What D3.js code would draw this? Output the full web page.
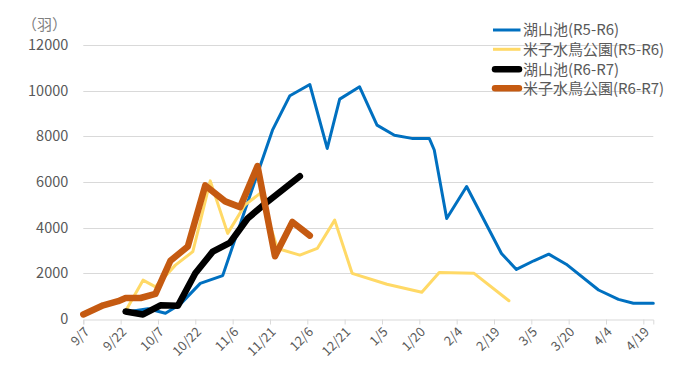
<!DOCTYPE html>
<html>
<head>
<meta charset="utf-8">
<script src="https://cdn.jsdelivr.net/npm/d3@7"></script>
<style>
  body { margin: 0; background: #fff; }
  .chart { width: 676px; height: 376px; }
  text { font-family: "Noto Sans CJK JP", "Noto Sans", sans-serif; }
</style>
</head>
<body>
<div class="chart"></div>
<script>
// 目盛り（15日おき）
const xTickLabels = ["9/7", "9/22", "10/7", "10/22", "11/6", "11/21", "12/6", "12/21",
  "1/5", "1/20", "2/4", "2/19", "3/5", "3/20", "4/4", "4/19"];
const yTickValues = [0, 2000, 4000, 6000, 8000, 10000, 12000];

// 湖山池(R5-R6)
const koyamaR5Dates = ["9/27", "10/3", "10/10", "10/16", "10/24", "11/2", "11/12", "11/22", "11/29",
  "12/7", "12/14", "12/19", "12/27", "1/3", "1/10", "1/17", "1/24", "1/26", "1/31", "2/8",
  "2/22", "2/28", "3/6", "3/12", "3/19", "4/1", "4/9", "4/15", "4/23"];
const koyamaR5Values = [350, 450, 250, 650, 1560, 1900, 5100, 8270, 9780,
  10270, 7470, 9630, 10170, 8490, 8050, 7910, 7910, 7400, 4400, 5800,
  2870, 2170, 2550, 2840, 2400, 1270, 860, 690, 690];

// 米子水鳥公園(R5-R6)
const yonagoR5Dates = ["9/24", "10/1", "10/6", "10/14", "10/21", "10/28", "11/4", "11/11", "11/17",
  "11/24", "12/3", "12/10", "12/17", "12/24", "1/7", "1/21", "1/28", "2/11", "2/25"];
const yonagoR5Values = [350, 1700, 1410, 2360, 2950, 6050, 3750, 5000, 5500,
  3090, 2800, 3090, 4330, 2000, 1520, 1170, 2040, 2000, 800];

// 湖山池(R6-R7)
const koyamaR6Dates = ["9/24", "10/1", "10/8", "10/15", "10/22", "10/29", "11/5", "11/12", "11/19",
  "11/26", "12/3"];
const koyamaR6Values = [330, 200, 600, 580, 2000, 2950, 3350, 4400, 5050, 5650, 6250];

// 米子水鳥公園(R6-R7)
const yonagoR6Dates = ["9/7", "9/15", "9/21", "9/24", "9/30", "10/6", "10/12", "10/19", "10/26",
  "11/3", "11/9", "11/16", "11/23", "11/30", "12/7"];
const yonagoR6Values = [200, 600, 780, 920, 920, 1100, 2550, 3180, 5850,
  5150, 4900, 6700, 2750, 4250, 3650];

const seriesNames = ["湖山池(R5-R6)", "米子水鳥公園(R5-R6)", "湖山池(R6-R7)", "米子水鳥公園(R6-R7)"];
const seriesColors = ["#0070C0", "#FFD966", "#000000", "#C55A11"];
const seriesWidths = [3, 3, 6.5, 6.5];

// "M/D" を日付に（7月以降は2023年、それ以前は2024年として同じ軸に載せる）
function parseMD(s) {
  const [m, d] = s.split("/").map(Number);
  return new Date(m >= 7 ? 2023 : 2024, m - 1, d);
}

const series = [
  { dates: koyamaR5Dates, values: koyamaR5Values },
  { dates: yonagoR5Dates, values: yonagoR5Values },
  { dates: koyamaR6Dates, values: koyamaR6Values },
  { dates: yonagoR6Dates, values: yonagoR6Values }
].map((s, i) => ({
  name: seriesNames[i],
  color: seriesColors[i],
  width: seriesWidths[i],
  points: s.dates.map((d, j) => ({ date: parseMD(d), value: s.values[j] }))
}));

const width = 676, height = 376;
const margin = { top: 45, right: 22.7, bottom: 57, left: 83.3 };

const svg = d3.select(".chart")
  .append("svg")
  .attr("width", width)
  .attr("height", height)
  .attr("viewBox", `0 0 ${width} ${height}`);

const x = d3.scaleTime()
  .domain([parseMD("9/7"), parseMD("4/23")])
  .range([margin.left, width - margin.right]);

const y = d3.scaleLinear()
  .domain([0, 12000])
  .range([height - margin.bottom, margin.top]);

// グリッド線
svg.append("g")
  .selectAll("line")
  .data(yTickValues.filter(v => v > 0))
  .join("line")
  .attr("x1", x.range()[0])
  .attr("x2", x.range()[1])
  .attr("y1", d => Math.round(y(d)) + 0.5)
  .attr("y2", d => Math.round(y(d)) + 0.5)
  .attr("stroke", "#D9D9D9")
  .attr("stroke-width", 1);

// y軸
const yAxis = svg.append("g")
  .attr("transform", `translate(${margin.left},0)`)
  .call(d3.axisLeft(y).tickValues(yTickValues).tickSize(0).tickPadding(15)
    .tickFormat(d3.format("d")));
yAxis.select(".domain").remove();
yAxis.selectAll("text")
  .style("font-size", "14.5px")
  .attr("fill", "#595959");

svg.append("text")
  .attr("x", 67)
  .attr("y", 30)
  .attr("text-anchor", "end")
  .style("font-size", "15px")
  .attr("fill", "#7F7F7F")
  .text("（羽）");

// x軸
const xAxis = svg.append("g")
  .attr("transform", `translate(0,${Math.round(y(0)) + 0.5})`)
  .call(d3.axisBottom(x)
    .tickValues(xTickLabels.map(parseMD))
    .tickSize(5)
    .tickFormat(d => `${d.getMonth() + 1}/${d.getDate()}`));
xAxis.select(".domain").attr("stroke", "#D9D9D9");
xAxis.selectAll(".tick line").attr("stroke", "#D9D9D9");
xAxis.selectAll(".tick text")
  .attr("fill", "#595959")
  .style("font-size", "13px")
  .attr("text-anchor", "end")
  .attr("transform", "translate(3,10) rotate(-45)")
  .attr("x", 0)
  .attr("y", 0)
  .attr("dy", "0.35em");

// 折れ線
const line = d3.line()
  .x(d => x(d.date))
  .y(d => y(d.value));

svg.append("g")
  .selectAll("path")
  .data(series)
  .join("path")
  .attr("d", d => line(d.points))
  .attr("fill", "none")
  .attr("stroke", d => d.color)
  .attr("stroke-width", d => d.width)
  .attr("stroke-linejoin", "round")
  .attr("stroke-linecap", "round");

// 凡例
const legend = svg.append("g")
  .attr("transform", "translate(492,30)")
  .selectAll("g")
  .data(series)
  .join("g")
  .attr("transform", (d, i) => `translate(0,${[0, 19.3, 39.3, 58.3][i]})`);

legend.append("line")
  .attr("x1", d => d.width > 4 ? 3 : 1)
  .attr("x2", d => d.width > 4 ? 27 : 28.5)
  .attr("stroke", d => d.color)
  .attr("stroke-width", d => d.width)
  .attr("stroke-linecap", d => d.width > 4 ? "round" : "butt");

legend.append("text")
  .attr("x", 31)
  .attr("dy", "0.35em")
  .style("font-size", "15px")
  .attr("fill", "#595959")
  .text(d => d.name);
</script>
</body>
</html>
